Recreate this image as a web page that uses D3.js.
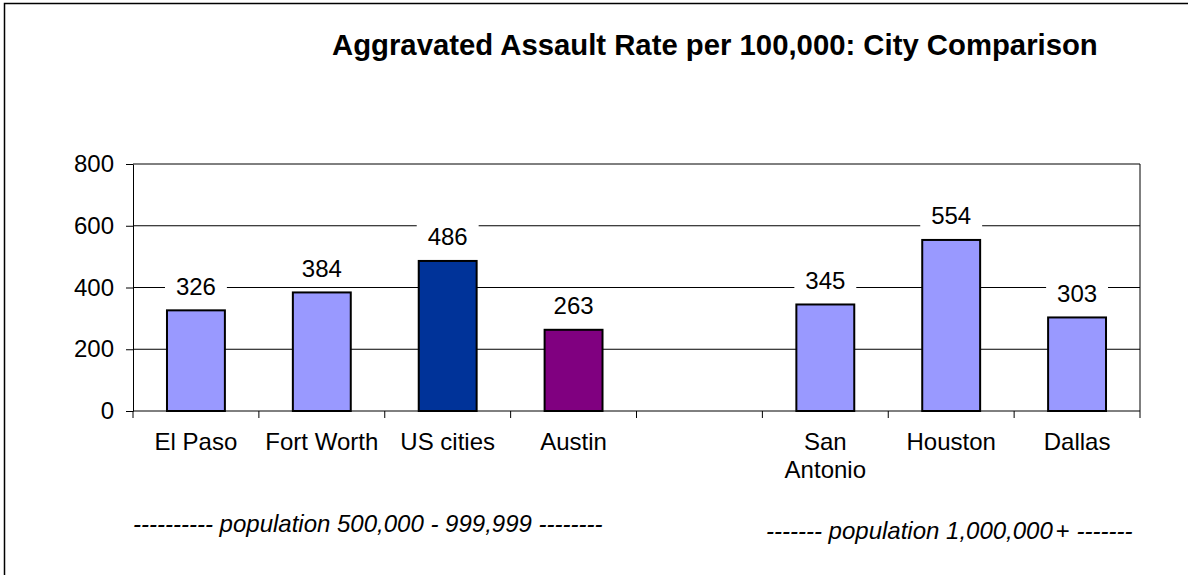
<!DOCTYPE html>
<html>
<head>
<meta charset="utf-8">
<script src="https://cdn.jsdelivr.net/npm/d3@7"></script>
<style>
  html, body { margin: 0; background: #fff; overflow: hidden; }
  svg { display: block; }
  svg text { font-family: Arial, "Liberation Sans", sans-serif; fill: #000; }
</style>
</head>
<body>
<div id="app"></div>
<script>
// chart data
const cities = ["El Paso", "Fort Worth", "US cities", "Austin", "", "San Antonio", "Houston", "Dallas"];
const rates = [326, 384, 486, 263, null, 345, 554, 303];
const barColors = ["#9999FF", "#9999FF", "#003399", "#800080", null, "#9999FF", "#9999FF", "#9999FF"];
const yTicks = [0, 200, 400, 600, 800];
const groupNotes = [
  { text: "---------- population 500,000 - 999,999 --------", plus: "" },
  { text: "------- population 1,000,000", plus: "+ -------" }
];

const width = 1188;
const height = 575;
const plot = { left: 133, right: 1140, top: 164, bottom: 411 };

const svg = d3.select("#app").append("svg").attr("width", width).attr("height", height);

// outer chart frame: only the top and left edges fall inside the picture
svg.append("path")
  .attr("d", `M4.5,${height} V3.5 H${width}`)
  .attr("fill", "none").attr("stroke", "#000").attr("stroke-width", 1.5);

// TITLE
svg.append("text")
  .attr("x", 332).attr("y", 55)
  .style("font-size", "29.3px").style("font-weight", "bold")
  .text("Aggravated Assault Rate per 100,000: City Comparison");

const x = d3.scaleBand()
  .domain(d3.range(cities.length))
  .range([plot.left, plot.right])
  .paddingInner(0.54)
  .paddingOuter(0.27);

const y = d3.scaleLinear().domain([0, 800]).range([plot.bottom, plot.top]);

// GRIDLINES
svg.append("g")
  .selectAll("line")
  .data(yTicks.filter(d => d > 0))
  .join("line")
  .attr("x1", plot.left).attr("x2", plot.right)
  .attr("y1", d => y(d)).attr("y2", d => y(d))
  .attr("stroke", "#000").attr("stroke-width", 1);

// right border of plot area
svg.append("line")
  .attr("x1", plot.right).attr("x2", plot.right)
  .attr("y1", plot.top).attr("y2", plot.bottom)
  .attr("stroke", "#000");

// Y AXIS
const yAxis = svg.append("g")
  .attr("transform", `translate(${plot.left},0)`)
  .call(d3.axisLeft(y).tickValues(yTicks).tickSize(7).tickSizeOuter(0).tickPadding(12));
yAxis.select(".domain").attr("stroke", "#000");
yAxis.selectAll("text").style("font-size", "24px").attr("fill", "#000");

// X AXIS: ticks between categories
const step = x.step();
svg.append("g")
  .selectAll("line")
  .data(d3.range(cities.length + 1))
  .join("line")
  .attr("x1", i => plot.left + i * step).attr("x2", i => plot.left + i * step)
  .attr("y1", plot.bottom).attr("y2", plot.bottom + 7)
  .attr("stroke", "#000");
svg.append("line")
  .attr("x1", plot.left).attr("x2", plot.right)
  .attr("y1", plot.bottom).attr("y2", plot.bottom)
  .attr("stroke", "#000");

// category labels (wrap two-word San Antonio)
svg.append("g")
  .selectAll("text")
  .data(cities.map((c, i) => ({ c, i })))
  .join("text")
  .attr("x", d => x(d.i) + x.bandwidth() / 2)
  .attr("y", 450)
  .attr("text-anchor", "middle")
  .style("font-size", "24px")
  .each(function (d) {
    const lines = d.c === "San Antonio" ? ["San", "Antonio"] : [d.c];
    d3.select(this).selectAll("tspan")
      .data(lines)
      .join("tspan")
      .attr("x", x(d.i) + x.bandwidth() / 2)
      .attr("dy", (l, j) => (j === 0 ? 0 : 28))
      .text(l => l);
  });

// BARS
const barData = cities.map((c, i) => ({ i, v: rates[i], color: barColors[i] })).filter(d => d.v != null);

svg.append("g")
  .selectAll("rect")
  .data(barData)
  .join("rect")
  .attr("x", d => x(d.i))
  .attr("y", d => y(d.v))
  .attr("width", x.bandwidth())
  .attr("height", d => y(0) - y(d.v))
  .attr("fill", d => d.color)
  .attr("stroke", "#000")
  .attr("stroke-width", 2);

// VALUE LABELS with white backgrounds
const labels = svg.append("g").selectAll("g").data(barData).join("g");
labels.append("rect")
  .attr("x", d => x(d.i) - 2)
  .attr("y", d => y(d.v) - 24 - 17)
  .attr("width", x.bandwidth() + 4)
  .attr("height", 34)
  .attr("fill", "#fff");
labels.append("text")
  .attr("x", d => x(d.i) + x.bandwidth() / 2)
  .attr("y", d => y(d.v) - 15.5)
  .attr("text-anchor", "middle")
  .style("font-size", "24px")
  .text(d => d.v);

// population group notes
const notePos = [{ x: 133, y: 532 }, { x: 766, y: 539 }];
svg.append("g")
  .selectAll("text")
  .data(groupNotes)
  .join("text")
  .attr("x", (d, i) => notePos[i].x)
  .attr("y", (d, i) => notePos[i].y)
  .style("font-size", "24px")
  .style("font-style", "italic")
  .each(function (d) {
    const t = d3.select(this);
    t.append("tspan").text(d.text);
    if (d.plus) {
      t.append("tspan").attr("dx", 3).text(d.plus.slice(0, 1)).style("font-style", "normal");
      t.append("tspan").text(d.plus.slice(1));
    }
  });
</script>
</body>
</html>
